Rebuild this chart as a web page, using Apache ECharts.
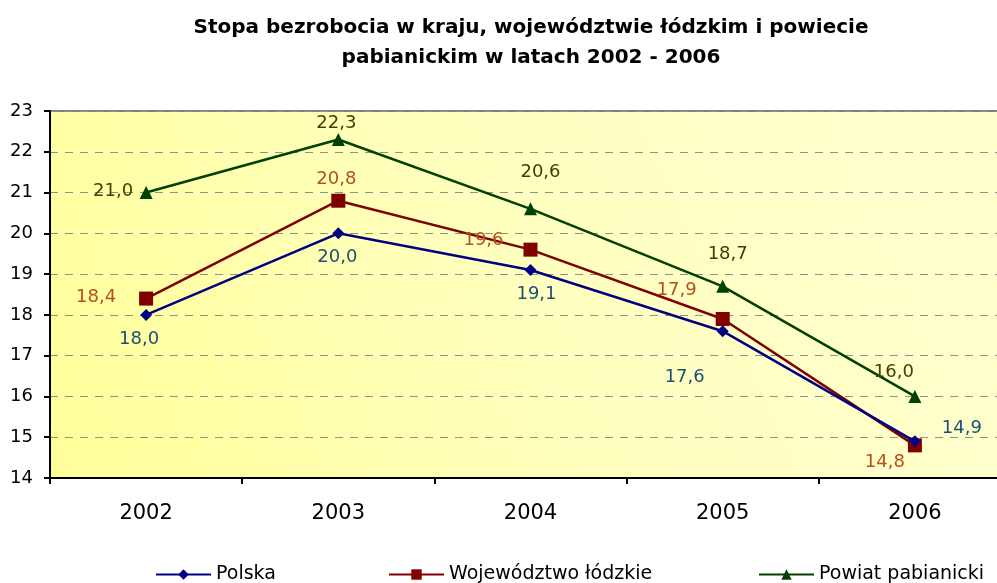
<!DOCTYPE html>
<html>
<head>
<meta charset="utf-8">
<script src="https://cdn.jsdelivr.net/npm/echarts@6/dist/echarts.min.js"></script>
<style>html,body{margin:0;padding:0;background:#fff;overflow:hidden}#c{width:1011px;height:583px}</style>
</head>
<body>
<div id="c"></div>
<script>
var titleText = 'Stopa bezrobocia w kraju, województwie łódzkim i powiecie\npabianickim w latach 2002 - 2006';
var years = ['2002', '2003', '2004', '2005', '2006'];
var seriesNames = ['Polska', 'Województwo łódzkie', 'Powiat pabianicki'];
var polska = [18.0, 20.0, 19.1, 17.6, 14.9];
var wojewodztwo = [18.4, 20.8, 19.6, 17.9, 14.8];
var powiat = [21.0, 22.3, 20.6, 18.7, 16.0];
var yTicks = [14, 15, 16, 17, 18, 19, 20, 21, 22, 23];

// label offsets (style only)
var offPolska = [[-7, 24], [-1, 24], [6, 24], [-38, 46], [47, -13]];
var offWoj = [[-50, -1], [-2, -21], [-47, -9], [-46, -29], [-30, 17]];
var offPow = [[-33, -1], [-2, -16], [10, -37], [5, -32], [-21, -24]];

var FONT = 'DejaVu Sans';

function mkData(vals, offs, color) {
  return vals.map(function (v, i) {
    return {
      value: v,
      label: {
        show: true, position: 'inside', offset: offs[i],
        formatter: function (p) { return p.value.toFixed(1).replace('.', ','); },
        color: color, fontFamily: FONT, fontSize: 18
      }
    };
  });
}

var chart = echarts.init(document.getElementById('c'), null, {renderer: 'canvas'});
var legendBase = {
  top: 565, padding: 0, itemWidth: 55, itemHeight: 13, itemGap: 10,
  textStyle: {fontFamily: FONT, fontSize: 19, color: '#000'},
  selectedMode: false
};
chart.setOption({
  animation: false,
  backgroundColor: '#ffffff',
  title: {
    text: titleText, left: 531, textAlign: 'center', top: 13, padding: 0,
    textStyle: {fontFamily: FONT, fontWeight: 'bold', fontSize: 20, lineHeight: 30, color: '#000'}
  },
  legend: [
    Object.assign({}, legendBase, {left: 155, data: [seriesNames[0]]}),
    Object.assign({}, legendBase, {left: 388, data: [seriesNames[1]]}),
    Object.assign({}, legendBase, {left: 758, data: [seriesNames[2]]})
  ],
  grid: {
    left: 50, right: 0, top: 111, bottom: 105,
    show: true, borderColor: '#808080', borderWidth: 2,
    backgroundColor: {
      type: 'linear', x: 0, y: 1, x2: 0.85, y2: 0,
      colorStops: [{offset: 0, color: '#FFFF99'}, {offset: 0.5, color: '#FFFFBB'}, {offset: 1, color: '#FFFFCE'}]
    }
  },
  xAxis: {
    type: 'category', data: years, boundaryGap: true,
    axisLine: {lineStyle: {color: '#000', width: 2}},
    axisTick: {show: true, length: 6, lineStyle: {color: '#000', width: 2}},
    axisLabel: {fontFamily: FONT, fontSize: 21, color: '#000', margin: 25}
  },
  yAxis: {
    type: 'value', min: 14, max: 23, interval: 1,
    axisLine: {show: true, lineStyle: {color: '#000', width: 2}},
    axisTick: {show: true, length: 6, lineStyle: {color: '#000', width: 2}},
    axisLabel: {fontFamily: FONT, fontSize: 18, color: '#000', margin: 17,
      formatter: function (v) { return yTicks.indexOf(v) >= 0 ? String(v) : ''; }},
    splitLine: {show: true, lineStyle: {color: '#909090', type: [8, 7], width: 1}}
  },
  series: [
    {
      name: seriesNames[0], type: 'line', data: mkData(polska, offPolska, '#1F4E79'),
      symbol: 'diamond', symbolSize: 12, z: 4,
      lineStyle: {color: '#000080', width: 2.5}, itemStyle: {color: '#000080'}
    },
    {
      name: seriesNames[1], type: 'line', data: mkData(wojewodztwo, offWoj, '#B4501E'),
      symbol: 'rect', symbolSize: 14, z: 3,
      lineStyle: {color: '#800000', width: 2.5}, itemStyle: {color: '#800000'}
    },
    {
      name: seriesNames[2], type: 'line', data: mkData(powiat, offPow, '#404000'),
      symbol: 'triangle', symbolSize: 13, z: 2,
      lineStyle: {color: '#004000', width: 2.5}, itemStyle: {color: '#004000'}
    }
  ]
});
</script>
</body>
</html>
